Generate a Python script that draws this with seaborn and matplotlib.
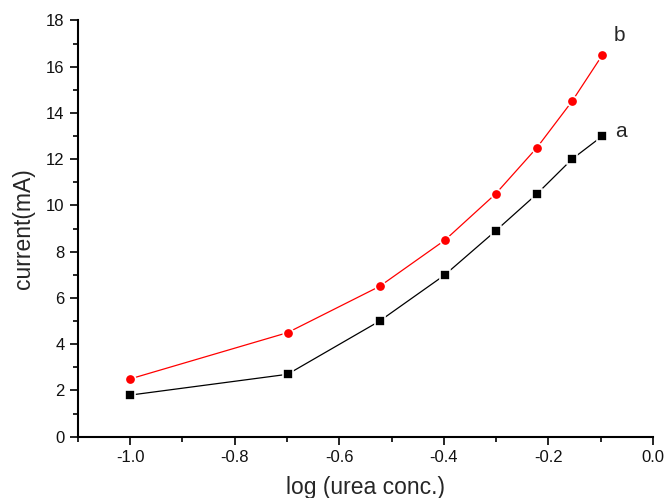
import numpy as np
import pandas as pd
import matplotlib
matplotlib.use("Agg")
import matplotlib.pyplot as plt
from matplotlib.ticker import MultipleLocator
import seaborn as sns

log_conc = [-1.0, -0.699, -0.523, -0.398, -0.301, -0.222, -0.155, -0.097]
current_a = [1.8, 2.7, 5.0, 7.0, 8.9, 10.5, 12.0, 13.0]
current_b = [2.5, 4.5, 6.5, 8.5, 10.5, 12.5, 14.5, 16.5]
x_ticks = [-1.0, -0.8, -0.6, -0.4, -0.2, 0.0]
y_ticks = [0, 2, 4, 6, 8, 10, 12, 14, 16, 18]

sns.set_style("ticks")
plt.rcParams['font.family'] = ['Liberation Sans', 'DejaVu Sans']

df_a = pd.DataFrame({"x": log_conc, "y": current_a})
df_b = pd.DataFrame({"x": log_conc, "y": current_b})

fig = plt.figure(figsize=(6.65, 4.98), dpi=100)
ax = fig.add_axes([0.117, 0.123, 0.865, 0.836])

sns.lineplot(data=df_a, x="x", y="y", ax=ax, color="black", linewidth=0.9,
             marker="s", markersize=7, markerfacecolor="black",
             markeredgecolor="white", markeredgewidth=1.2)
sns.lineplot(data=df_b, x="x", y="y", ax=ax, color="#ff0000", linewidth=0.9,
             marker="o", markersize=7.5, markerfacecolor="#ff0000",
             markeredgecolor="white", markeredgewidth=1.2)

ax.set_xlim(-1.1, 0.0)
ax.set_ylim(0, 18)
ax.set_xticks(x_ticks)
ax.set_xticklabels([f"{v:.1f}" for v in x_ticks])
ax.set_yticks(y_ticks)
ax.xaxis.set_minor_locator(MultipleLocator(0.1))
ax.yaxis.set_minor_locator(MultipleLocator(1))
ax.tick_params(axis="both", which="major", direction="out", length=6, width=1.2,
               labelsize=12, color="black", labelcolor="#111111")
ax.tick_params(axis="both", which="minor", direction="out", length=3.5, width=1.2,
               color="black")
for s in ["left", "bottom"]:
    ax.spines[s].set_linewidth(1.5)
    ax.spines[s].set_color("black")
sns.despine(ax=ax)

ax.set_xlabel("log (urea conc.)", fontsize=16.5, labelpad=8)
ax.set_ylabel("current(mA)", fontsize=16.5, labelpad=8)

ax.text(-0.061, 13.18, "a", fontsize=15, ha="center", va="center")
ax.text(-0.065, 17.33, "b", fontsize=15, ha="center", va="center")

fig.savefig("out.png", dpi=100)
